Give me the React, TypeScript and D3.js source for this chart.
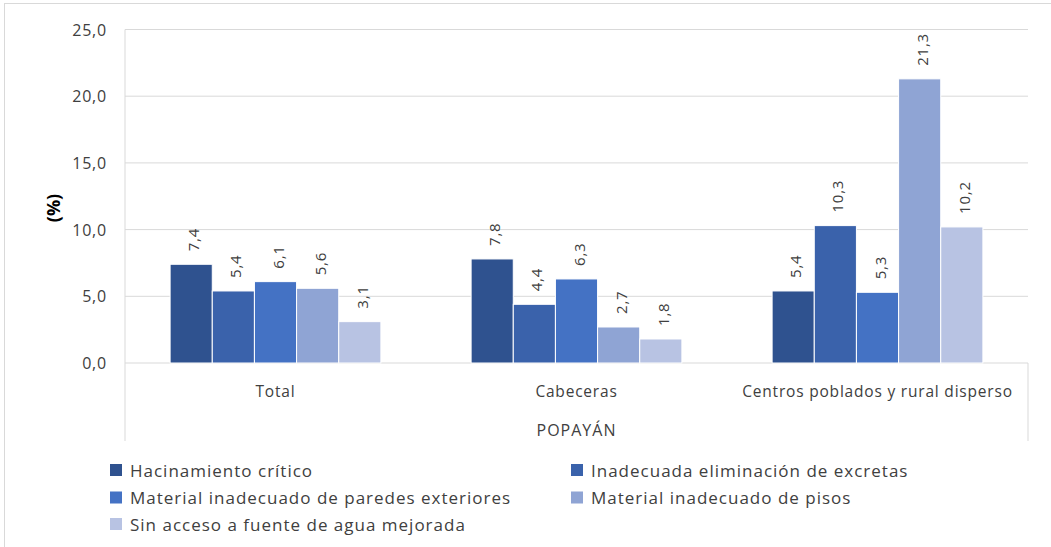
import React from "react";
import * as d3 from "d3";

const categories = ["Total", "Cabeceras", "Centros poblados y rural disperso"];
const seriesNames = [
  "Hacinamiento crítico",
  "Inadecuada eliminación de excretas",
  "Material inadecuado de paredes exteriores",
  "Material inadecuado de pisos",
  "Sin acceso a fuente de agua mejorada",
];
const hacinamiento = [7.4, 7.8, 5.4];
const excretas = [5.4, 4.4, 10.3];
const paredes = [6.1, 6.3, 5.3];
const pisos = [5.6, 2.7, 21.3];
const agua = [3.1, 1.8, 10.2];
const seriesValues = [hacinamiento, excretas, paredes, pisos, agua];
const colors = ["#2F528F", "#3A62AB", "#4472C4", "#8FA4D4", "#B8C3E3"];
const yTicks = [0, 5, 10, 15, 20, 25];
const outerLabel = "POPAYÁN";
const yTitle = "(%)";

const FONT = "'Open Sans', 'Noto Sans', sans-serif";

export default function App() {
  const W = 1051, H = 547;
  const left = 125, right = 1028, top = 29.5, bottom = 363;
  const x0 = d3.scaleBand<string>().domain(categories).range([left, right]).padding(0);
  const x1 = d3
    .scaleBand<string>()
    .domain(seriesNames)
    .range([0, x0.bandwidth()])
    .paddingInner(0)
    .paddingOuter(1.07);
  const y = d3.scaleLinear().domain([0, 25]).range([bottom, top]);
  const fmt = (v: number) => d3.format(".1f")(v).replace(".", ",");

  const legendPos = [
    [110, 470],
    [571, 470],
    [110, 497.5],
    [571, 497.5],
    [110, 524],
  ];

  return (
    <div style={{ position: "absolute", left: 0, top: 0 }}>
      <svg width={W} height={H} style={{ display: "block", fontFamily: FONT }}>
        <rect x={0} y={0} width={W} height={H} fill="#fff" />
        <rect x={4.5} y={3.5} width={W + 10} height={H + 10} fill="none" stroke="#D9D9D9" />
        {yTicks.map((t) => (
          <g key={t}>
            <line x1={left} x2={right} y1={y(t)} y2={y(t)} stroke="#D9D9D9" strokeWidth={1} />
            <text x={107} y={y(t)} textAnchor="end" dominantBaseline="central" fontSize={16} letterSpacing={0.8} fill="#404040">
              {fmt(t)}
            </text>
          </g>
        ))}
        <line x1={left} x2={left} y1={top} y2={441} stroke="#D9D9D9" />
        <line x1={right} x2={right} y1={bottom} y2={441} stroke="#D9D9D9" />
        <text
          transform={`translate(53,208) rotate(-90)`}
          textAnchor="middle"
          dominantBaseline="central"
          fontSize={18}
          fontWeight="bold"
          fill="#000"
        >
          {yTitle}
        </text>
        {categories.map((c, ci) => (
          <g key={c}>
            {seriesNames.map((s, si) => {
              const v = seriesValues[si][ci];
              const bx = (x0(c) as number) + (x1(s) as number);
              const bw = x1.bandwidth();
              const by = y(v);
              return (
                <g key={s}>
                  <rect x={bx} y={by} width={bw} height={y(0) - by} fill={colors[si]} stroke="#fff" strokeWidth={1} />
                  <text
                    transform={`translate(${bx + bw / 2 + 2},${by - 13}) rotate(-90)`}
                    textAnchor="start"
                    dominantBaseline="central"
                    fontSize={15}
                    letterSpacing={0.8}
                    fill="#404040"
                  >
                    {fmt(v)}
                  </text>
                </g>
              );
            })}
            <text
              x={(x0(c) as number) + x0.bandwidth() / 2}
              y={391}
              textAnchor="middle"
              dominantBaseline="central"
              fontSize={15.5}
              letterSpacing={0.8}
              fill="#404040"
            >
              {c}
            </text>
          </g>
        ))}
        <text x={(left + right) / 2} y={430} textAnchor="middle" dominantBaseline="central" fontSize={16} letterSpacing={1} fill="#404040">
          {outerLabel}
        </text>
        {seriesNames.map((s, i) => (
          <g key={s}>
            <rect x={legendPos[i][0]} y={legendPos[i][1] - 6} width={12} height={12} fill={colors[i]} />
            <text x={legendPos[i][0] + 20} y={legendPos[i][1]} dominantBaseline="central" fontSize={17} letterSpacing={1} fill="#404040">
              {s}
            </text>
          </g>
        ))}
      </svg>
    </div>
  );
}
